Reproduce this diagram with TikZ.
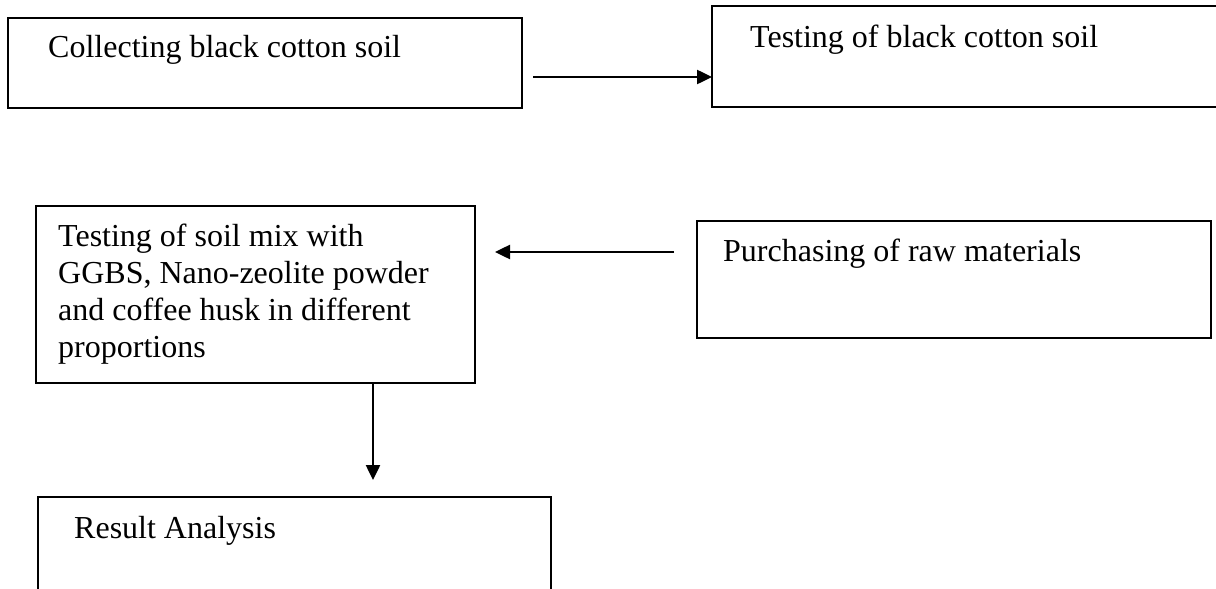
\documentclass[tikz,border=0pt]{standalone}
\usepackage{fontspec}
\setmainfont{Liberation Serif}
\usetikzlibrary{arrows.meta,calc}
\tikzset{
  box/.style={draw=black, line width=2pt},
  lbl/.style={anchor=base west, inner sep=0pt, font=\fontsize{32pt}{37pt}\selectfont, align=left},
  conn/.style={draw=black, line width=2.5pt, -{Triangle[length=15pt,width=14pt]}}
}
\begin{document}
\begin{tikzpicture}[x=1pt,y=-1pt]
\clip (0,0) rectangle (1216,589);
\fill[white] (0,0) rectangle (1216,589);
% boxes
\draw[box] (8,18) rectangle (522,108);
\coordinate (b1e) at (522,77);
\draw[box] (712,6) rectangle (1230,107);
\coordinate (b2w) at (712,77);
\draw[box] (36,206) rectangle (475,383);
\coordinate (b3e) at (475,252);
\coordinate (b3s) at (373,383);
\draw[box] (697,221) rectangle (1211,338);
\coordinate (b4w) at (697,252);
\draw[box] (38,600) -- (38,497) -- (551,497) -- (551,600);
\coordinate (b5n) at (373,497);
% texts
\node[lbl] (t1) at (48,57) {Collecting black cotton soil};
\node[lbl] (t2) at (750,47) {Testing of black cotton soil};
\node[lbl] (t3) at (58,357) {Testing of soil mix with\\GGBS, Nano-zeolite powder\\and coffee husk in different\\proportions};
\node[lbl] (t4) at (723,261) {Purchasing of raw materials};
\node[lbl] (t5) at (74,538) {Result Analysis};
% connectors
\draw[conn] ($(b1e)+(11,0)$) -- (b2w);
\draw[conn] ($(b4w)+(-23,0)$) -- ($(b3e)+(20,0)$);
\draw[conn] (b3s) -- ($(b5n)+(0,-17)$);
\end{tikzpicture}
\end{document}
